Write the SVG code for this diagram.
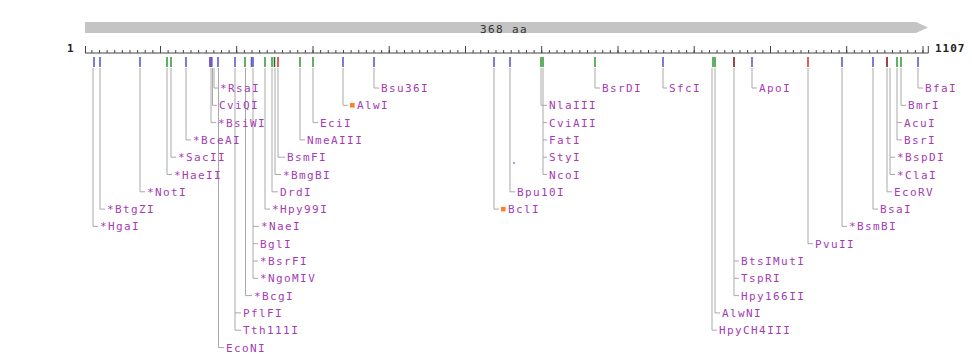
<svg xmlns="http://www.w3.org/2000/svg" width="972" height="360" viewBox="0 0 972 360">
  <style>
    .lbl { font-family: "DejaVu Sans Mono", "Liberation Mono", monospace; font-size: 11px; letter-spacing: 1.4px; fill: #a33cb4; }
    .num { font-family: "DejaVu Sans Mono", "Liberation Mono", monospace; font-size: 11px; font-weight: bold; letter-spacing: 1px; fill: #222; }
    .aa { font-family: "DejaVu Sans Mono", "Liberation Mono", monospace; font-size: 11px; letter-spacing: 1.4px; fill: #333; }
    .conn { fill: none; stroke: #a9a9a9; stroke-width: 1; }
    .mk { stroke-width: 1.6; }
    .blue { stroke: #5c5cc8; }
    .green { stroke: #3c9c3c; }
    .dgreen { stroke: #2a6a2a; }
    .red { stroke: #e03434; }
    .dred { stroke: #7e1a1a; }
    .purple { stroke: #6a34a8; }
    .meth { fill: #ff7f2a; }
  </style>

  <rect width="972" height="360" fill="#ffffff"/>

  <!-- protein bar -->
  <g id="protein-bar">
    <polygon points="85,22 916,22 928,27.5 916,33 85,33" fill="#c4c4c4"/>
    <text class="aa" x="504" y="32.5" text-anchor="middle">368 aa</text>
  </g>

  <!-- ruler: 1 .. 1107 bp, minor tick every 10 bp, major every 100 bp -->
  <g id="ruler" stroke="#444" stroke-width="1">
    <line x1="85" y1="53" x2="928.3" y2="53"/>
    <line x1="91.36" y1="51.5" x2="924" y2="51.5" stroke-width="3" stroke-dasharray="1 6.625"/>
    <path d="M85.5 46V53 M160.5 46V53 M236.7 46V53 M313 46V53 M389.2 46V53 M465.5 46V53 M541.7 46V53 M618 46V53 M694.2 46V53 M770.5 46V53 M846.7 46V53 M923 46V53 M928.3 46V53"/>
  </g>
  <text class="num" x="67" y="52">1</text>
  <text class="num" x="935" y="52">1107</text>

  <!-- cut-site markers -->
  <g id="markers" class="mk">
    <line class="blue" x1="94" y1="57" x2="94" y2="67"/>
    <line class="blue" x1="100" y1="57" x2="100" y2="67"/>
    <line class="blue" x1="140" y1="57" x2="140" y2="67"/>
    <line class="green" x1="167" y1="57" x2="167" y2="67"/>
    <line class="green" x1="171" y1="57" x2="171" y2="67"/>
    <line class="blue" x1="186" y1="57" x2="186" y2="67"/>
    <line class="purple" x1="210" y1="57" x2="210" y2="67"/>
    <line class="blue" x1="211.8" y1="57" x2="211.8" y2="67"/>
    <line class="blue" x1="218" y1="57" x2="218" y2="67"/>
    <line class="blue" x1="235" y1="57" x2="235" y2="67"/>
    <line class="green" x1="245" y1="57" x2="245" y2="67"/>
    <line class="blue" x1="251.5" y1="57" x2="251.5" y2="67"/>
    <line class="blue" x1="253" y1="57" x2="253" y2="67"/>
    <line class="green" x1="265" y1="57" x2="265" y2="67"/>
    <line class="green" x1="272" y1="57" x2="272" y2="67"/>
    <line class="dgreen" x1="274.5" y1="57" x2="274.5" y2="67"/>
    <line class="red" x1="278" y1="57" x2="278" y2="67"/>
    <line class="green" x1="300" y1="57" x2="300" y2="67"/>
    <line class="green" x1="313" y1="57" x2="313" y2="67"/>
    <line class="blue" x1="343" y1="57" x2="343" y2="67"/>
    <line class="blue" x1="374" y1="57" x2="374" y2="67"/>
    <line class="blue" x1="494" y1="57" x2="494" y2="67"/>
    <line class="blue" x1="510" y1="57" x2="510" y2="67"/>
    <line class="green" x1="541" y1="57" x2="541" y2="67"/>
    <line class="green" x1="543" y1="57" x2="543" y2="67"/>
    <line class="green" x1="595" y1="57" x2="595" y2="67"/>
    <line class="blue" x1="663" y1="57" x2="663" y2="67"/>
    <line class="green" x1="713" y1="57" x2="713" y2="67"/>
    <line class="green" x1="715" y1="57" x2="715" y2="67"/>
    <line class="dred" x1="734" y1="57" x2="734" y2="67"/>
    <line class="blue" x1="752" y1="57" x2="752" y2="67"/>
    <line class="red" x1="808" y1="57" x2="808" y2="67"/>
    <line class="blue" x1="842" y1="57" x2="842" y2="67"/>
    <line class="blue" x1="873" y1="57" x2="873" y2="67"/>
    <line class="dred" x1="887" y1="57" x2="887" y2="67"/>
    <line class="green" x1="897" y1="57" x2="897" y2="67"/>
    <line class="green" x1="901" y1="57" x2="901" y2="67"/>
    <line class="blue" x1="918" y1="57" x2="918" y2="67"/>
  </g>

  <!-- leader lines from cut sites to enzyme names -->
  <g id="connectors" class="conn">
    <path d="M93 68V226.4H98"/>
    <path d="M100 68V209.1H105"/>
    <path d="M140 68V191.8H145"/>
    <path d="M167 68V174.5H172"/>
    <path d="M171 68V157.2H176"/>
    <path d="M186 68V139.9H191"/>
    <path d="M214 68V88H218"/>
    <path d="M212.5 68V105.3H217"/>
    <path d="M211 68V122.6H216"/>
    <path d="M218.5 68V347.5H224"/>
    <path d="M235 68V330.2H241 M235 312.9H241"/>
    <path d="M245.5 68V295.6H252"/>
    <path d="M253 68V278.3H258 M253 226.4H259 M253 243.7H258 M253 261H258"/>
    <path d="M265 68V209.1H270"/>
    <path d="M272 68V191.8H278"/>
    <path d="M275 68V174.5H281"/>
    <path d="M278 68V157.2H285"/>
    <path d="M300 68V139.9H305"/>
    <path d="M313 68V122.6H318"/>
    <path d="M343 68V105.3H348"/>
    <path d="M374 68V88H379"/>
    <path d="M494 68V209.1H499"/>
    <path d="M510 68V191.8H515"/>
    <path d="M541 68V105.3H547"/>
    <path d="M543 68V174.5H547 M543 122.6H547 M543 139.9H547 M543 157.2H547"/>
    <path d="M595 68V88H600"/>
    <path d="M663 68V88H667"/>
    <path d="M715 68V312.9H720"/>
    <path d="M712 68V330.2H717"/>
    <path d="M734 68V295.6H739 M734 261H739 M734 278.3H739"/>
    <path d="M752 68V88H757"/>
    <path d="M808 68V243.7H813"/>
    <path d="M842 68V226.4H847"/>
    <path d="M873 68V209.1H878"/>
    <path d="M887 68V191.8H892"/>
    <path d="M890 68V174.5H895 M890 157.2H895"/>
    <path d="M897 68V139.9H902 M897 122.6H902"/>
    <path d="M901 68V105.3H906"/>
    <path d="M918 68V88H923"/>
  </g>
  <circle cx="514" cy="163" r="0.9" fill="#7a7ad0"/>

  <!-- enzyme names -->
  <g id="HgaI"><text class="lbl" x="100" y="230.4">*HgaI</text></g>
  <g id="BtgZI"><text class="lbl" x="107" y="213.1">*BtgZI</text></g>
  <g id="NotI"><text class="lbl" x="147" y="195.8">*NotI</text></g>
  <g id="HaeII"><text class="lbl" x="174" y="178.5">*HaeII</text></g>
  <g id="SacII"><text class="lbl" x="178" y="161.2">*SacII</text></g>
  <g id="BceAI"><text class="lbl" x="193" y="143.9">*BceAI</text></g>
  <g id="RsaI"><text class="lbl" x="220" y="92">*RsaI</text></g>
  <g id="CviQI"><text class="lbl" x="219" y="109.3">CviQI</text></g>
  <g id="BsiWI"><text class="lbl" x="218" y="126.6">*BsiWI</text></g>
  <g id="EcoNI"><text class="lbl" x="226" y="351.5">EcoNI</text></g>
  <g id="PflFI"><text class="lbl" x="243" y="316.9">PflFI</text></g>
  <g id="Tth111I"><text class="lbl" x="243" y="334.2">Tth111I</text></g>
  <g id="BcgI"><text class="lbl" x="254" y="299.6">*BcgI</text></g>
  <g id="NaeI"><text class="lbl" x="261" y="230.4">*NaeI</text></g>
  <g id="BglI"><text class="lbl" x="260" y="247.7">BglI</text></g>
  <g id="BsrFI"><text class="lbl" x="260" y="265">*BsrFI</text></g>
  <g id="NgoMIV"><text class="lbl" x="260" y="282.3">*NgoMIV</text></g>
  <g id="Hpy99I"><text class="lbl" x="272" y="213.1">*Hpy99I</text></g>
  <g id="DrdI"><text class="lbl" x="280" y="195.8">DrdI</text></g>
  <g id="BmgBI"><text class="lbl" x="283" y="178.5">*BmgBI</text></g>
  <g id="BsmFI"><text class="lbl" x="287" y="161.2">BsmFI</text></g>
  <g id="NmeAIII"><text class="lbl" x="307" y="143.9">NmeAIII</text></g>
  <g id="EciI"><text class="lbl" x="320" y="126.6">EciI</text></g>
  <g id="AlwI"><rect class="meth" x="350" y="103" width="4.6" height="4.6"/><text class="lbl" x="357" y="109.3">AlwI</text></g>
  <g id="Bsu36I"><text class="lbl" x="381" y="92">Bsu36I</text></g>
  <g id="BclI"><rect class="meth" x="501" y="206.8" width="4.6" height="4.6"/><text class="lbl" x="508" y="213.1">BclI</text></g>
  <g id="Bpu10I"><text class="lbl" x="517" y="195.8">Bpu10I</text></g>
  <g id="NlaIII"><text class="lbl" x="549" y="109.3">NlaIII</text></g>
  <g id="CviAII"><text class="lbl" x="549" y="126.6">CviAII</text></g>
  <g id="FatI"><text class="lbl" x="549" y="143.9">FatI</text></g>
  <g id="StyI"><text class="lbl" x="549" y="161.2">StyI</text></g>
  <g id="NcoI"><text class="lbl" x="549" y="178.5">NcoI</text></g>
  <g id="BsrDI"><text class="lbl" x="602" y="92">BsrDI</text></g>
  <g id="SfcI"><text class="lbl" x="669" y="92">SfcI</text></g>
  <g id="AlwNI"><text class="lbl" x="722" y="316.9">AlwNI</text></g>
  <g id="HpyCH4III"><text class="lbl" x="719" y="334.2">HpyCH4III</text></g>
  <g id="BtsIMutI"><text class="lbl" x="741" y="265">BtsIMutI</text></g>
  <g id="TspRI"><text class="lbl" x="741" y="282.3">TspRI</text></g>
  <g id="Hpy166II"><text class="lbl" x="741" y="299.6">Hpy166II</text></g>
  <g id="ApoI"><text class="lbl" x="759" y="92">ApoI</text></g>
  <g id="PvuII"><text class="lbl" x="815" y="247.7">PvuII</text></g>
  <g id="BsmBI"><text class="lbl" x="849" y="230.4">*BsmBI</text></g>
  <g id="BsaI"><text class="lbl" x="880" y="213.1">BsaI</text></g>
  <g id="EcoRV"><text class="lbl" x="894" y="195.8">EcoRV</text></g>
  <g id="ClaI"><text class="lbl" x="897" y="178.5">*ClaI</text></g>
  <g id="BspDI"><text class="lbl" x="897" y="161.2">*BspDI</text></g>
  <g id="BsrI"><text class="lbl" x="904" y="143.9">BsrI</text></g>
  <g id="AcuI"><text class="lbl" x="904" y="126.6">AcuI</text></g>
  <g id="BmrI"><text class="lbl" x="908" y="109.3">BmrI</text></g>
  <g id="BfaI"><text class="lbl" x="925" y="92">BfaI</text></g>
</svg>
